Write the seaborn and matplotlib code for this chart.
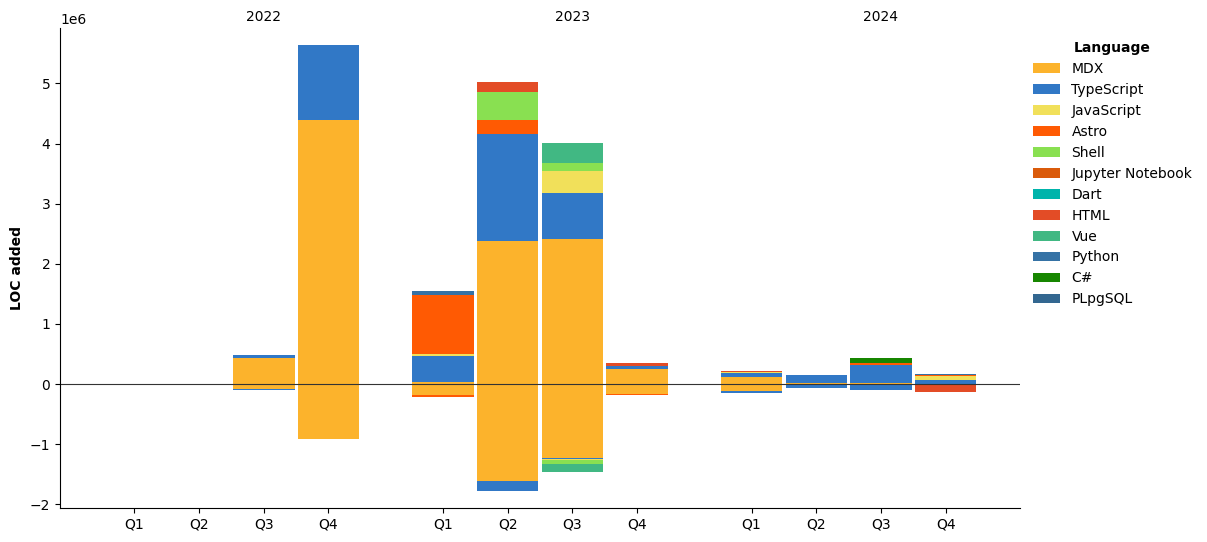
import numpy as np
import pandas as pd
import seaborn as sns
import matplotlib.pyplot as plt

years = ["2022", "2023", "2024"]
quarters = ["Q1", "Q2", "Q3", "Q4"]

languages = ["MDX", "TypeScript", "JavaScript", "Astro", "Shell", "Jupyter Notebook",
             "Dart", "HTML", "Vue", "Python", "C#", "PLpgSQL"]
colors = ["#fcb32c", "#3178c6", "#f1e05a", "#ff5a03", "#89e051", "#da5b0b",
          "#00b4ab", "#e34c26", "#41b883", "#3572a5", "#178600", "#336790"]

# LOC added / removed per quarter (millions), 2022 Q1 .. 2024 Q4
mdx_add = [0, 0, 0.437, 4.385, 0.04, 2.375, 2.41, 0.25, 0.12, 0.017, 0.02, 0]
mdx_del = [0, 0, -0.083, -0.91, -0.18, -1.61, -1.23, -0.16, -0.11, -0.01, -0.01, 0]
ts_add = [0, 0, 0.05, 1.246, 0.43, 1.78, 0.76, 0.05, 0.066, 0.13, 0.30, 0.066]
ts_del = [0, 0, -0.015, 0, 0, -0.166, -0.017, 0, -0.033, -0.05, -0.085, 0]
js_add = [0, 0, 0, 0, 0.033, 0, 0.38, 0, 0.022, 0, 0, 0.072]
js_del = [0, 0, 0, 0, 0, 0, -0.01, 0, 0, 0, 0, 0]
astro_add = [0, 0, 0, 0, 0.98, 0.23, 0, 0, 0, 0, 0.033, 0.01]
astro_del = [0, 0, 0, 0, -0.033, 0, 0, -0.017, 0, 0, 0, 0]
shell_add = [0, 0, 0, 0, 0, 0.465, 0.13, 0, 0, 0, 0, 0]
shell_del = [0, 0, 0, 0, 0, 0, -0.07, 0, 0, 0, 0, 0]
jupyter_add = [0] * 12
jupyter_del = [0] * 12
dart_add = [0] * 12
dart_del = [0] * 12
html_add = [0, 0, 0, 0, 0, 0.18, 0, 0.05, 0.01, 0.01, 0, 0]
html_del = [0, 0, 0, 0, 0, 0, 0, 0, 0, 0, 0, -0.133]
vue_add = [0, 0, 0, 0, 0, 0, 0.33, 0, 0, 0, 0, 0]
vue_del = [0, 0, 0, 0, 0, 0, -0.13, 0, 0, 0, 0, 0]
python_add = [0, 0, 0, 0, 0.066, 0, 0, 0, 0, 0, 0, 0.02]
python_del = [0] * 12
csharp_add = [0, 0, 0, 0, 0, 0, 0, 0, 0, 0, 0.083, 0]
csharp_del = [0] * 12
plpgsql_add = [0] * 12
plpgsql_del = [0] * 12

added = [mdx_add, ts_add, js_add, astro_add, shell_add, jupyter_add,
         dart_add, html_add, vue_add, python_add, csharp_add, plpgsql_add]
removed = [mdx_del, ts_del, js_del, astro_del, shell_del, jupyter_del,
           dart_del, html_del, vue_del, python_del, csharp_del, plpgsql_del]

df_add = pd.DataFrame(np.array(added).T * 1e6, columns=languages)
df_del = pd.DataFrame(np.array(removed).T * 1e6, columns=languages)

group_step = 4.77
x = np.array([g * group_step + q for g in range(len(years)) for q in range(len(quarters))])

sns.set_style("ticks")
plt.rcParams["font.family"] = ["DejaVu Sans"]
plt.rcParams["text.color"] = "black"

fig = plt.figure(figsize=(12.07, 5.42), dpi=100)
ax = fig.add_axes([0.0497, 0.0627, 0.7954, 0.8856])

pal = sns.color_palette(colors)
bottom_pos = np.zeros(len(x))
bottom_neg = np.zeros(len(x))
for lang, c in zip(languages, pal):
    ax.bar(x, df_add[lang], bottom=bottom_pos, width=0.95, color=c, label=lang, linewidth=0)
    ax.bar(x, df_del[lang], bottom=bottom_neg, width=0.95, color=c, linewidth=0)
    bottom_pos += df_add[lang].values
    bottom_neg += df_del[lang].values

ax.axhline(0, color="#333333", linewidth=0.8)
ax.set_xticks(x)
ax.set_xticklabels(quarters * len(years), color="black")
ax.set_xlim(-1.15, x[-1] + 1.15)
ax.set_ylim(-2.06e6, 5.92e6)
ax.tick_params(colors="black", labelcolor="black")
ax.set_ylabel("LOC added", fontweight="bold", color="black")

for g, yr in enumerate(years):
    ax.text(g * group_step + 2, 1.008, yr, transform=ax.get_xaxis_transform(),
            ha="center", va="bottom", fontsize=10, color="black")

sns.despine(ax=ax)
for s in ["left", "bottom"]:
    ax.spines[s].set_color("black")

leg = ax.legend(title="Language", loc="upper left", bbox_to_anchor=(1.0, 0.999),
                frameon=False, labelcolor="black")
leg.get_title().set_fontweight("bold")
leg.get_title().set_color("black")

fig.savefig("out.png", dpi=100)
